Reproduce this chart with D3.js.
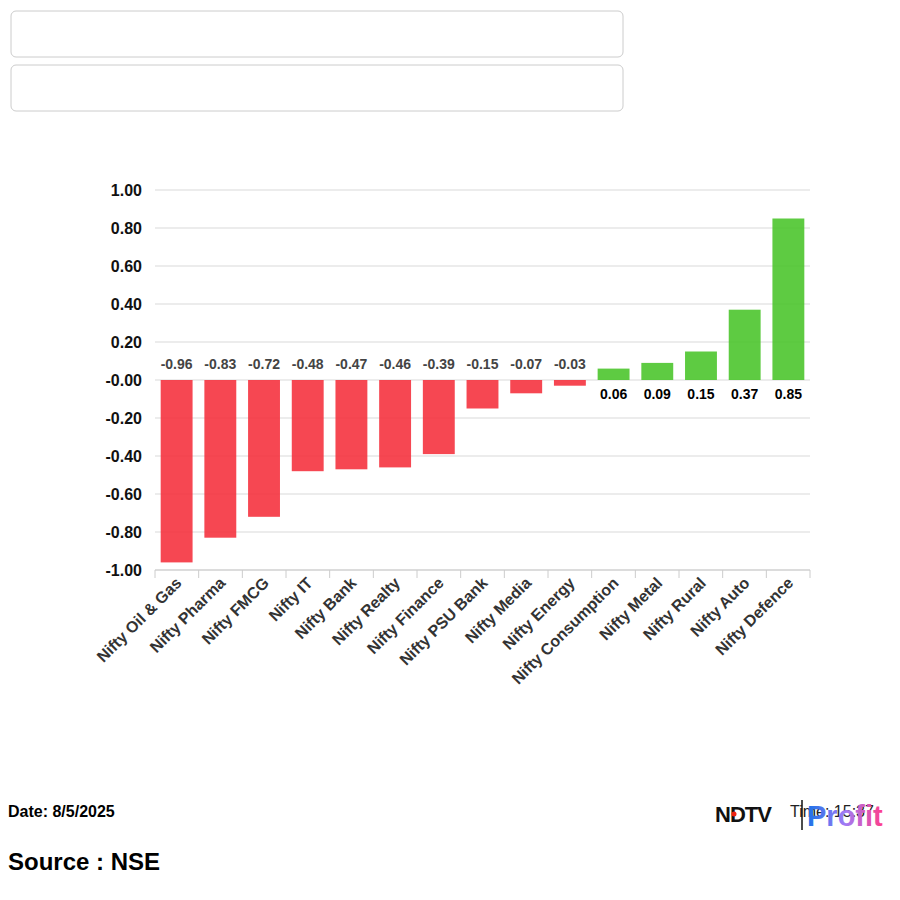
<!DOCTYPE html>
<html><head><meta charset="utf-8">
<script src="https://cdn.jsdelivr.net/npm/d3@7"></script>
<style>body{margin:0;background:#fff;font-family:Arial,"Liberation Sans",sans-serif}</style>
</head><body>
<svg id="chart" width="900" height="900"></svg>
<script>
const categories = ["Nifty Oil & Gas","Nifty Pharma","Nifty FMCG","Nifty IT","Nifty Bank","Nifty Realty","Nifty Finance","Nifty PSU Bank","Nifty Media","Nifty Energy","Nifty Consumption","Nifty Metal","Nifty Rural","Nifty Auto","Nifty Defence"];
const values = [-0.96,-0.83,-0.72,-0.48,-0.47,-0.46,-0.39,-0.15,-0.07,-0.03,0.06,0.09,0.15,0.37,0.85];
const yTicks = [-1,-0.8,-0.6,-0.4,-0.2,0,0.2,0.4,0.6,0.8,1];

const svg = d3.select("#chart");

// empty input-like boxes at top
[11, 65].forEach(y => svg.append("rect").attr("x", 11).attr("y", y).attr("width", 612).attr("height", 46)
  .attr("rx", 5).attr("fill", "#fff").attr("stroke", "#ccc"));

const x = d3.scaleBand().domain(categories).range([155, 810]).paddingInner(0.27).paddingOuter(0.13);
const y = d3.scaleLinear().domain([-1, 1]).range([570, 190]);

const fmt = v => (v <= 0 && v > -0.005 ? "-0.00" : v.toFixed(2));

// grid
svg.append("g").selectAll("line").data(yTicks).join("line")
  .attr("x1", 155).attr("x2", 810).attr("y1", d => y(d)).attr("y2", d => y(d))
  .attr("stroke", "#d9d9d9");

svg.append("g").selectAll("text").data(yTicks).join("text")
  .attr("x", 142).attr("y", d => y(d)).attr("dy", "0.35em").attr("text-anchor", "end")
  .attr("font-size", 16).attr("font-weight", "bold").attr("fill", "#111")
  .text(d => fmt(d));

// x axis line + ticks
const xa = svg.append("g");
xa.append("line").attr("x1", 155).attr("x2", 810).attr("y1", 570).attr("y2", 570).attr("stroke", "#ccc");
xa.selectAll("line.t").data(d3.range(categories.length + 1)).join("line").attr("class", "t")
  .attr("x1", i => 155 + i * (655 / categories.length)).attr("x2", i => 155 + i * (655 / categories.length))
  .attr("y1", 570).attr("y2", 578).attr("stroke", "#ccc");

// bars
svg.append("g").selectAll("rect").data(values).join("rect")
  .attr("x", (d, i) => x(categories[i])).attr("width", x.bandwidth())
  .attr("y", d => y(Math.max(0, d))).attr("height", d => Math.abs(y(d) - y(0)))
  .attr("fill", d => d < 0 ? "#f5333f" : "#4cc52e").attr("fill-opacity", 0.9);

// value labels
svg.append("g").selectAll("text").data(values).join("text")
  .attr("x", (d, i) => x(categories[i]) + x.bandwidth() / 2)
  .attr("y", d => d < 0 ? y(0) - 11 : y(0) + 19)
  .attr("text-anchor", "middle").attr("font-size", 14).attr("font-weight", "bold")
  .attr("fill", d => d < 0 ? "#444" : "#000")
  .text(d => d.toFixed(2));

// category labels
svg.append("g").selectAll("text").data(categories).join("text")
  .attr("transform", d => `translate(${x(d) + x.bandwidth() / 2 + 6},${584}) rotate(-45)`)
  .attr("text-anchor", "end").attr("font-size", 16).attr("font-weight", "bold").attr("fill", "#333")
  .text(d => d);

// footer
svg.append("text").attr("x", 8).attr("y", 817).attr("font-size", 16).attr("font-weight", "bold").text("Date: 8/5/2025");
svg.append("text").attr("x", 8).attr("y", 870).attr("font-size", 24).attr("font-weight", "bold").text("Source : NSE");
svg.append("text").attr("x", 790).attr("y", 817).attr("font-size", 16).attr("fill", "#222").text("Time: 15:37");

// logo
const logo = svg.append("g");
logo.append("text").attr("x", 715).attr("y", 822).attr("font-size", 22).attr("font-weight", "900")
  .attr("letter-spacing", -1).attr("fill", "#111").text("NDTV");
logo.append("circle").attr("cx", 734).attr("cy", 814).attr("r", 2.5).attr("fill", "#e21");
logo.append("line").attr("x1", 802).attr("x2", 802).attr("y1", 800).attr("y2", 830).attr("stroke", "#111").attr("stroke-width", 1.5);
const grad = svg.append("defs").append("linearGradient").attr("id", "pg");
grad.append("stop").attr("offset", "0%").attr("stop-color", "#1a73e8");
grad.append("stop").attr("offset", "50%").attr("stop-color", "#a17bf5");
grad.append("stop").attr("offset", "100%").attr("stop-color", "#ff3d8b");
logo.append("text").attr("x", 807).attr("y", 826).attr("font-size", 29).attr("font-weight", "bold")
  .attr("fill", "url(#pg)").text("Profit");
</script>
</body></html>
